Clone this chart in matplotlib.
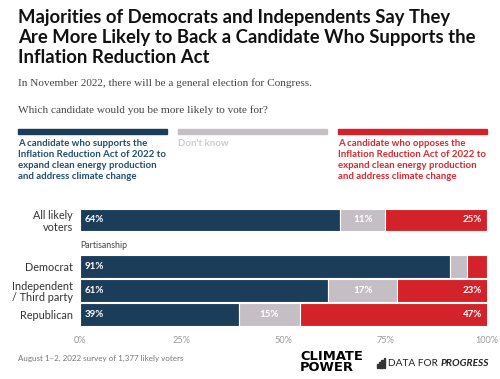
import matplotlib.pyplot as plt

# data
groups = ["Republican", "Independent\n/ Third party", "Democrat", "All likely\nvoters"]
positions = [0, 1, 2, 3.94]
supports = [39, 61, 91, 64]
dont_know = [15, 17, 4, 11]
opposes = [47, 23, 5, 25]
ticks = [0, 25, 50, 75, 100]
tick_labels = ["0%", "25%", "50%", "75%", "100%"]

BLUE = "#1b3d5a"
GRAY = "#c5bfc5"
RED = "#d32229"
SANS = ["Lato", "DejaVu Sans"]

W, H = 500, 379
fig = plt.figure(figsize=(W / 100, H / 100), dpi=100)

def fy(py):
    return 1 - py / H

def fx(px):
    return px / W

# titulo
fig.text(fx(18), fy(9), "Majorities of Democrats and Independents Say They\n"
         "Are More Likely to Back a Candidate Who Supports the\nInflation Reduction Act",
         family=SANS, weight="bold", fontsize=13.3, color="#111111",
         va="top", ha="left", linespacing=1.2)
fig.text(fx(18), fy(83), "In November 2022, there will be a general election for Congress.",
         family="Liberation Serif", fontsize=8.1, color="#444444", va="center")
fig.text(fx(18), fy(110), "Which candidate would you be more likely to vote for?",
         family="Liberation Serif", fontsize=8.1, color="#444444", va="center")

# leyenda
leg = [(18, 167, BLUE, "#234e6e", "A candidate who supports the\nInflation Reduction Act of 2022 to\n"
        "expand clean energy production\nand address climate change"),
       (178, 327, GRAY, "#cfcacf", "Don't know"),
       (338, 487, RED, "#d9282f", "A candidate who opposes the\nInflation Reduction Act of 2022 to\n"
        "expand clean energy production\nand address climate change")]
for x0, x1, c, tc, txt in leg:
    fig.patches.append(plt.Rectangle((fx(x0), fy(134)), fx(x1 - x0), 5 / H,
                                     transform=fig.transFigure, color=c))
    fig.text(fx(x0), fy(138.5), txt, family=SANS, weight="bold", fontsize=6.9,
             color=tc, va="top", ha="left", linespacing=1.3)

# barras
ax = fig.add_axes([fx(80), fy(326.5), fx(487 - 80), 118.8 / H])
h = 0.92
lefts2 = [s + d for s, d in zip(supports, dont_know)]
ax.barh(positions, supports, height=h, color=BLUE, edgecolor="white", linewidth=0.8)
ax.barh(positions, dont_know, left=supports, height=h, color=GRAY, edgecolor="white", linewidth=0.8)
ax.barh(positions, opposes, left=lefts2, height=h, color=RED, edgecolor="white", linewidth=0.8)

for y, s, d, o in zip(positions, supports, dont_know, opposes):
    kw = dict(color="white", weight="bold", fontsize=7, family=SANS, va="center")
    ax.text(1.2, y, f"{s}%", ha="left", **kw)
    if d >= 8:
        ax.text(s + d / 2, y, f"{d}%", ha="center", **kw)
    if o >= 8:
        ax.text(98.8, y, f"{o}%", ha="right", **kw)

ax.text(0, 2.87, "Partisanship", family=SANS, fontsize=6.4, color="#444444", va="center")

ax.set_xlim(0, 100)
ax.set_ylim(-0.5, 4.45)
ax.set_yticks(positions)
ax.set_yticklabels(groups, family=SANS, fontsize=7.8, color="#333333", linespacing=1.1)
ax.set_xticks(ticks)
ax.set_xticklabels(tick_labels, family=SANS, fontsize=6.6, color="#999999")
ax.tick_params(length=0, pad=5)
ax.tick_params(axis="x", pad=7)
for sp in ax.spines.values():
    sp.set_visible(False)

# pie
fig.text(fx(18), fy(358), "August 1\u20132, 2022 survey of 1,377 likely voters",
         family=SANS, fontsize=5.8, color="#777777", va="center")
fig.text(fx(300), fy(362), "CLIMATE\nPOWER", family="DejaVu Sans", weight="bold", fontsize=9.4,
         color="black", va="center", ha="left", linespacing=0.82)
t1 = fig.text(fx(388), fy(363), "DATA FOR ", family=SANS, fontsize=7.3, color="#222222", va="center")
fig.canvas.draw()
bb = t1.get_window_extent()
fig.text(bb.x1 / W, fy(363), "PROGRESS", family=SANS, fontsize=7.3, weight="bold", style="italic",
         color="#222222", va="center")
for i, bh in enumerate([4, 6, 8, 10]):
    fig.patches.append(plt.Rectangle((fx(377 + i * 2.2), fy(368)), 1.3 / W, bh / H,
                                     transform=fig.transFigure, color="#333333"))

fig.savefig("out.png", dpi=100)
